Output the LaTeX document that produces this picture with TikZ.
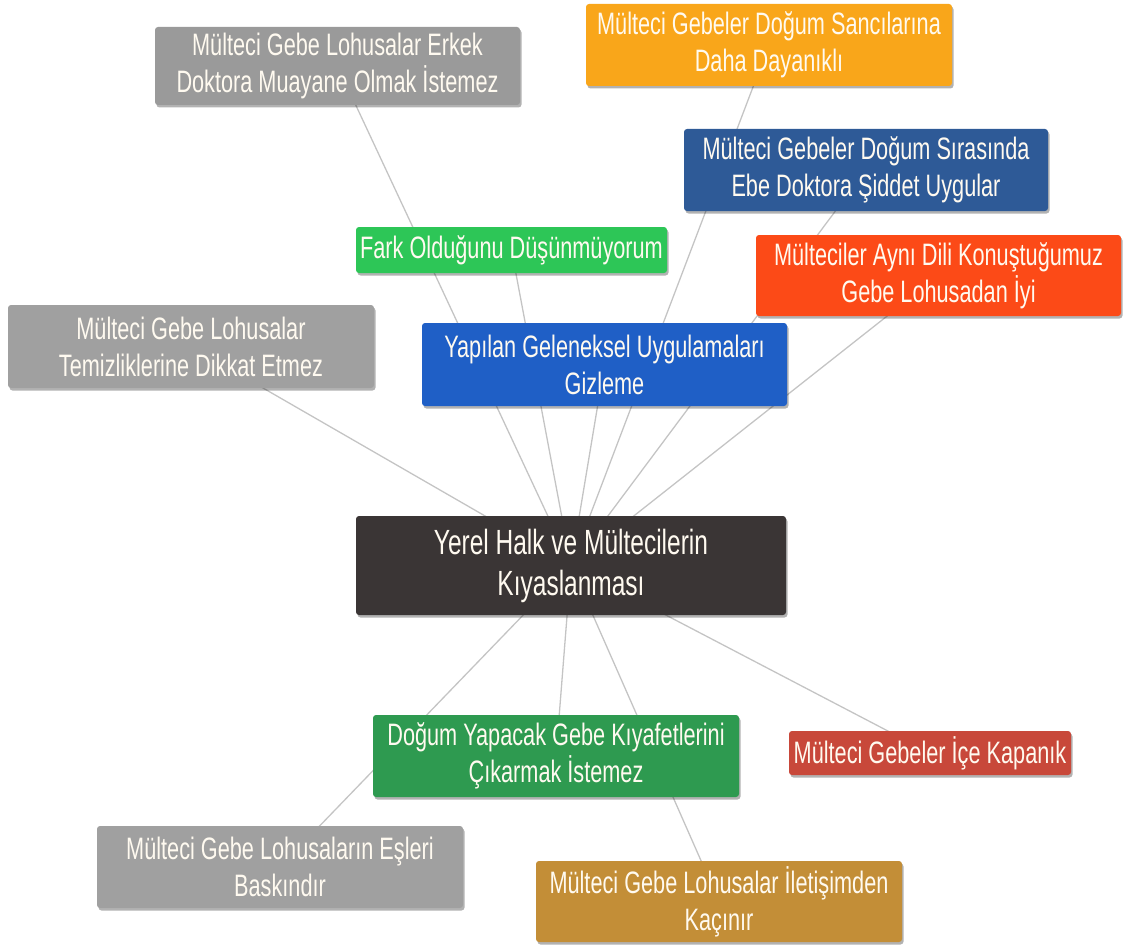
\documentclass[tikz,border=0pt]{standalone}
\usepackage{fontspec}
\newfontfamily\nf[FakeStretch=0.70]{Liberation Sans}
\usetikzlibrary{shadows,backgrounds}
\definecolor{cgray}{HTML}{A0A0A0}
\definecolor{cgrayd}{HTML}{9A9A9A}
\definecolor{corange}{HTML}{F9A61A}
\definecolor{cnavy}{HTML}{2E5A97}
\definecolor{cgreenl}{HTML}{2DC657}
\definecolor{credor}{HTML}{FC4A17}
\definecolor{cblue}{HTML}{1F5FC6}
\definecolor{cdark}{HTML}{3A3535}
\definecolor{cgreen}{HTML}{2E9A50}
\definecolor{cred}{HTML}{C8483A}
\definecolor{cgold}{HTML}{C38E37}
\definecolor{ctext}{HTML}{FFFAF0}
\definecolor{cline}{HTML}{C4C4C4}
\tikzset{
  box/.style={rectangle, rounded corners=3pt, inner sep=0pt, align=center,
    text=ctext, font=\nf\fontsize{31}{37}\selectfont,
    drop shadow={shadow xshift=1.5pt, shadow yshift=-2.5pt, opacity=0.3, fill=black}},
  link/.style={draw=cline, line width=1.3pt}
}
\begin{document}
\begin{tikzpicture}[x=1pt,y=-1pt]
\useasboundingbox (0,0) rectangle (1129,947);
\node[box, fill=cgrayd, minimum width=365pt, minimum height=78pt] (erkek) at (337.5,66) {Mülteci Gebe Lohusalar Erkek\\Doktora Muayane Olmak İstemez};
\node[box, fill=corange, minimum width=366pt, minimum height=82pt] (sanci) at (769,45) {Mülteci Gebeler Doğum Sancılarına\\Daha Dayanıklı};
\node[box, fill=cnavy, minimum width=364pt, minimum height=82pt] (siddet) at (866,170) {Mülteci Gebeler Doğum Sırasında\\Ebe Doktora Şiddet Uygular};
\node[box, fill=cgreenl, minimum width=311pt, minimum height=46pt] (fark) at (511.5,250) {Fark Olduğunu Düşünmüyorum};
\node[box, fill=credor, minimum width=365pt, minimum height=81pt] (dil) at (938.5,275.5) {Mülteciler Aynı Dili Konuştuğumuz\\Gebe Lohusadan İyi};
\node[box, fill=cblue, minimum width=365pt, minimum height=83pt] (gizleme) at (604.5,364.5) {Yapılan Geleneksel Uygulamaları\\Gizleme};
\node[box, fill=cgray, minimum width=366pt, minimum height=83pt] (temiz) at (191,346.5) {Mülteci Gebe Lohusalar\\Temizliklerine Dikkat Etmez};
\node[box, fill=cdark, minimum width=430pt, minimum height=99pt, font=\nf\fontsize{35}{41}\selectfont] (merkez) at (571,565.5) {Yerel Halk ve Mültecilerin\\Kıyaslanması};
\node[box, fill=cgreen, minimum width=366pt, minimum height=82pt] (cikar) at (556,756) {Doğum Yapacak Gebe Kıyafetlerini\\Çıkarmak İstemez};
\node[box, fill=cred, minimum width=282pt, minimum height=44pt] (kapanik) at (930,753) {Mülteci Gebeler İçe Kapanık};
\node[box, fill=cgray, minimum width=366pt, minimum height=82pt] (esleri) at (280,867) {Mülteci Gebe Lohusaların Eşleri\\Baskındır};
\node[box, fill=cgold, minimum width=366pt, minimum height=81pt] (kacinir) at (719,901.5) {Mülteci Gebe Lohusalar İletişimden\\Kaçınır};
\begin{pgfonlayer}{background}
\foreach \n in {erkek,sanci,siddet,fark,dil,gizleme,temiz,cikar,kapanik,esleri,kacinir}
  \draw[link] (merkez.center) -- (\n.center);
\end{pgfonlayer}
\end{tikzpicture}
\end{document}
